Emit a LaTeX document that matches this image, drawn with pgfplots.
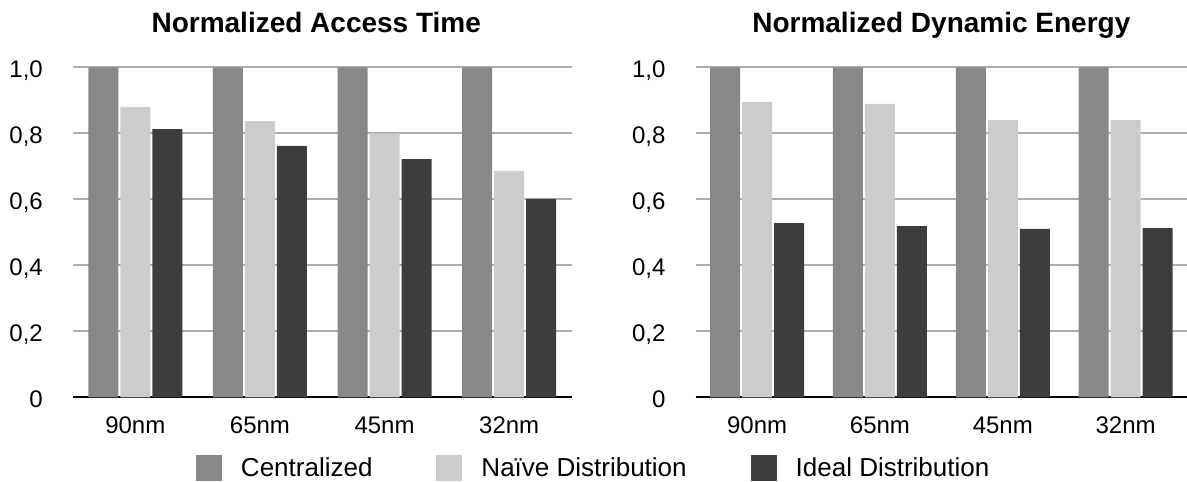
\documentclass[border=0pt]{standalone}
\usepackage{pgfplots}
\usepackage{pgfplotstable}
\pgfplotsset{compat=1.18}
\usepackage{fontspec}
\setmainfont{Liberation Sans}
\definecolor{cCen}{HTML}{878887}
\definecolor{cNai}{HTML}{CBCCCB}
\definecolor{cIde}{HTML}{3C3D3C}
\definecolor{cGrid}{HTML}{ADADAD}

\pgfplotstableread{
x cen nai ide
0 1.0 0.879 0.813
1 1.0 0.837 0.762
2 1.0 0.800 0.722
3 1.0 0.686 0.601
}\accessdata
\pgfplotstableread{
x cen nai ide
0 1.0 0.895 0.528
1 1.0 0.889 0.519
2 1.0 0.840 0.510
3 1.0 0.840 0.513
}\energydata

\pgfplotsset{
  sq/.style={legend image code/.code={\fill[##1] (0bp,-13bp) rectangle (26bp,13bp);}},
  panel/.style={
    scale only axis, height=330bp,
    bar width=30bp,
    ymin=0, ymax=1, xmin=-0.5, xmax=3.5,
    xtick={0,1,2,3}, xticklabels={90nm,65nm,45nm,32nm},
    ytick={0,0.2,0.4,0.6,0.8,1.0},
    yticklabels={0,{0,2},{0,4},{0,6},{0,8},{1,0}},
    axis x line*=bottom, axis y line*=left,
    x axis line style={black, line width=2.2bp, -},
    y axis line style={draw=none},
    major tick length=0pt,
    ymajorgrids, major grid style={cGrid, line width=1.8bp},
    tick label style={font=\fontsize{24bp}{28bp}\selectfont, inner sep=0pt},
    xticklabel style={anchor=base, yshift=-36bp},
    yticklabel style={anchor=base east, xshift=-30bp, yshift=-10.5bp},
    title style={font=\fontsize{28bp}{32bp}\selectfont\bfseries, anchor=base, yshift=29bp, inner sep=0pt},
    clip=false,
  },
}

\begin{document}
\begin{tikzpicture}
\begin{axis}[panel, at={(73bp,84.7bp)}, anchor=south west, width=498.5bp,
  title={Normalized Access Time},
  title style={at={(axis description cs:0.488,1)}},
  legend columns=3,
  legend cell align=left,
  legend style={draw=none, fill=none, inner sep=0pt, outer sep=0pt,
    nodes={inner sep=0pt},
    at={(axis description cs:0.2467,-0.2142)}, anchor=west,
    font=\fontsize{26bp}{30bp}\selectfont,
    /tikz/every odd column/.append style={column sep=19bp},
    /tikz/every even column/.append style={column sep=64bp}},
]
\addplot[ybar, bar shift=-32bp, fill=cCen, draw=none, sq] table[x=x,y=cen]{\accessdata};
\addplot[ybar, bar shift=0bp, fill=cNai, draw=none, sq] table[x=x,y=nai]{\accessdata};
\addplot[ybar, bar shift=32bp, fill=cIde, draw=none, sq] table[x=x,y=ide]{\accessdata};
\legend{Centralized, Naïve Distribution, Ideal Distribution}
\end{axis}
\begin{axis}[panel, at={(695.7bp,84.7bp)}, anchor=south west, width=491.3bp,
  title={Normalized Dynamic Energy},
  title style={at={(axis description cs:0.5,1)}}]
\addplot[ybar, bar shift=-32bp, fill=cCen, draw=none] table[x=x,y=cen]{\energydata};
\addplot[ybar, bar shift=0bp, fill=cNai, draw=none] table[x=x,y=nai]{\energydata};
\addplot[ybar, bar shift=32bp, fill=cIde, draw=none] table[x=x,y=ide]{\energydata};
\end{axis}
\pgfresetboundingbox
\path[use as bounding box] (0,0) rectangle (1187bp,482bp);
\end{tikzpicture}
\end{document}
